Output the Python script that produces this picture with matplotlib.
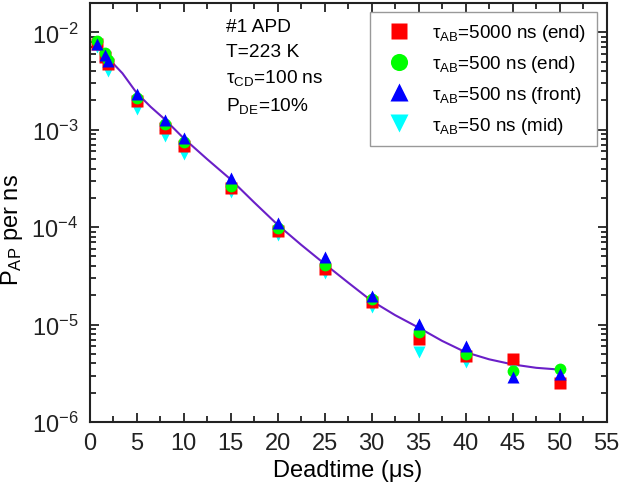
import matplotlib
matplotlib.use("Agg")
import matplotlib.pyplot as plt
from matplotlib.ticker import MultipleLocator, LogLocator, LogFormatterMathtext, NullFormatter

plt.rcParams['font.family'] = ['Liberation Sans', 'DejaVu Sans']
plt.rcParams['mathtext.fontset'] = 'custom'
plt.rcParams['mathtext.rm'] = 'Liberation Sans'
plt.rcParams['mathtext.it'] = 'Liberation Sans:italic'
plt.rcParams['mathtext.bf'] = 'Liberation Sans:bold'

# Data
x_pts = [0.8, 1.6, 2.0, 5, 8, 10, 15, 20, 25, 30, 35, 40, 45, 50]
red_5000_end = [7.5e-3, 5.6e-3, 4.7e-3, 1.97e-3, 1.03e-3, 6.8e-4, 2.55e-4, 9.2e-5, 3.71e-5, 1.72e-5, 7.1e-6, 4.72e-6, 4.43e-6, 2.51e-6]
green_500_end = [8.1e-3, 6.2e-3, 5.2e-3, 2.14e-3, 1.14e-3, 7.5e-4, 2.66e-4, 9.9e-5, 4.07e-5, 1.83e-5, 8.3e-6, 4.98e-6, 3.36e-6, 3.5e-6]
blue_500_front = [7.65e-3, 5.8e-3, 5.1e-3, 2.31e-3, 1.26e-3, 8.3e-4, 3.18e-4, 1.10e-4, 4.9e-5, 1.95e-5, 1.01e-5, 5.97e-6, 2.87e-6, 3.1e-6]
x_cyan = [0.8, 1.6, 2.0, 5, 8, 10, 15, 20, 25, 30, 35, 40, 45]
cyan_50_mid = [7.0e-3, 5.1e-3, 4.0e-3, 1.65e-3, 8.6e-4, 5.7e-4, 2.27e-4, 8.3e-5, 3.37e-5, 1.50e-5, 5.2e-6, 4.15e-6, 3.64e-6]

fit_x = [0.8, 2, 3.5, 5, 6.5, 8, 10, 12.5, 15, 17.5, 20, 22.5, 25, 27.5, 30, 32.5, 35, 37.5, 40, 42.5, 45, 47.5, 50]
fit_y = [7.1e-3, 5.4e-3, 3.8e-3, 2.4e-3, 1.72e-3, 1.28e-3, 8.2e-4, 5.0e-4, 3.1e-4, 1.8e-4, 1.06e-4, 6.6e-5, 4.2e-5, 2.7e-5, 1.75e-5, 1.25e-5, 9.3e-6, 6.8e-6, 5.2e-6, 4.4e-6, 3.9e-6, 3.6e-6, 3.45e-6]

labels = ['τ$_{\\mathrm{AB}}$=5000 ns (end)', 'τ$_{\\mathrm{AB}}$=500 ns (end)',
          'τ$_{\\mathrm{AB}}$=500 ns (front)', 'τ$_{\\mathrm{AB}}$=50 ns (mid)']

fig = plt.figure(figsize=(6.22, 4.89), dpi=100)
ax = fig.add_axes([89.5/622, 1 - 423/489, (606.7-89.5)/622, (423-4)/489])

ax.plot(fit_x, fit_y, color='#6a1fc8', lw=1.5, zorder=1)
hc, = ax.plot(x_cyan, cyan_50_mid, 'v', color='#00ffff', ms=9, mec='none', zorder=2)
hr, = ax.plot(x_pts, red_5000_end, 's', color='#ff0000', ms=8, mec='none', zorder=3)
hg, = ax.plot(x_pts, green_500_end, 'o', color='#00ff00', ms=8.5, mec='none', zorder=4)
hb, = ax.plot(x_pts, blue_500_front, '^', color='#0000ff', ms=9, mec='none', zorder=5)

ax.set_yscale('log')
ax.set_xlim(0, 55)
ax.set_ylim(1e-6, 2e-2)
ax.xaxis.set_major_locator(MultipleLocator(5))
ax.xaxis.set_minor_locator(MultipleLocator(2.5))
ax.yaxis.set_major_locator(LogLocator(base=10, numticks=10))
ax.yaxis.set_minor_locator(LogLocator(base=10, subs=range(2, 10), numticks=20))
ax.yaxis.set_major_formatter(LogFormatterMathtext())
ax.yaxis.set_minor_formatter(NullFormatter())

ax.tick_params(which='both', direction='in', top=True, right=True, width=1.3, colors='#222222')
ax.tick_params(which='major', length=6.5, labelsize=17)
ax.tick_params(which='minor', length=4)
ax.tick_params(axis='x', which='major', pad=7)
ax.tick_params(axis='y', which='major', pad=8)
for s in ax.spines.values():
    s.set_linewidth(1.5)
    s.set_color('#222222')

ax.set_xlabel('Deadtime (μs)', fontsize=17, labelpad=4)
ax.set_ylabel('P$_{\\mathrm{AP}}$ per ns', fontsize=17)
ax.yaxis.set_label_coords(-0.125, 0.46)

tx = 0.264
ax.text(tx, 0.943, '#1 APD', transform=ax.transAxes, fontsize=13.8, va='center')
ax.text(tx, 0.885, 'T=223 K', transform=ax.transAxes, fontsize=13.8, va='center')
ax.text(tx, 0.823, 'τ$_{\\mathrm{CD}}$=100 ns', transform=ax.transAxes, fontsize=13.8, va='center')
ax.text(tx, 0.757, 'P$_{\\mathrm{DE}}$=10%', transform=ax.transAxes, fontsize=13.8, va='center')

leg = ax.legend([hr, hg, hb, hc], labels, loc='upper right', fontsize=13.6,
                frameon=True, fancybox=False, edgecolor='#999999', framealpha=1,
                bbox_to_anchor=(0.981, 0.9785), borderaxespad=0,
                handletextpad=0.75, labelspacing=0.52, handlelength=2.0,
                borderpad=0.55, markerscale=1.45)
leg.get_frame().set_linewidth(1.0)

fig.savefig('out.png', dpi=100)
